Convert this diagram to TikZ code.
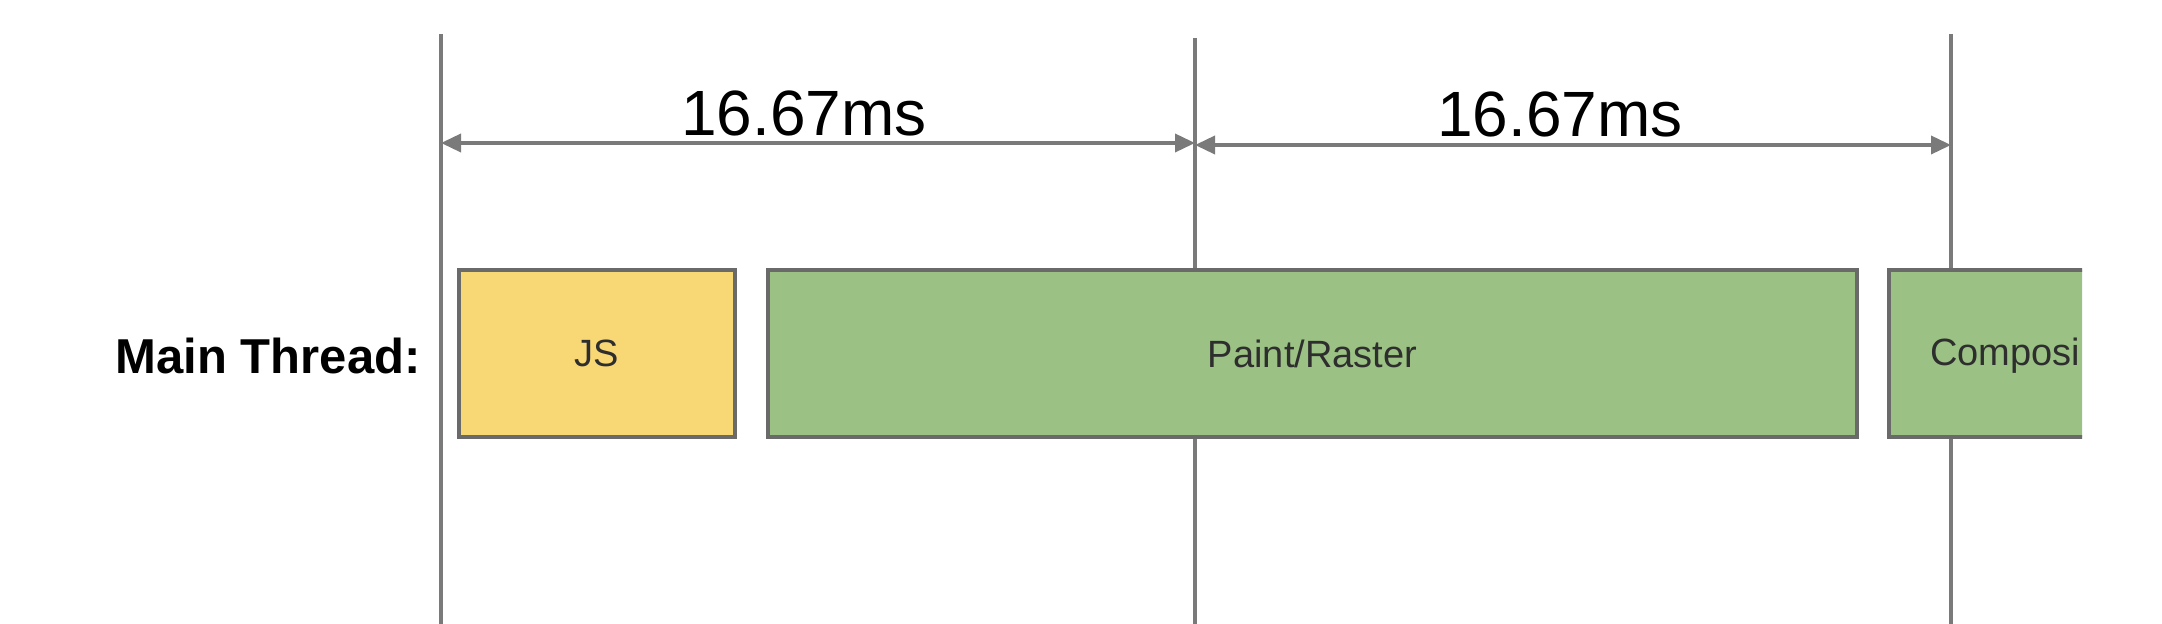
\documentclass[tikz,border=0pt]{standalone}
\usepackage{fontspec}
\setmainfont{Liberation Sans}
\usetikzlibrary{arrows.meta}
\definecolor{linegray}{HTML}{7A7A7A}
\definecolor{boxborder}{HTML}{6A6A6A}
\definecolor{jsyellow}{HTML}{F8D775}
\definecolor{paintgreen}{HTML}{9BC284}
\definecolor{boxtext}{HTML}{2E2E2E}
\tikzset{
  vline/.style={draw=linegray, line width=2pt},
  dimarrow/.style={draw=linegray, line width=1.8pt, {Triangle[length=10pt,width=9pt]}-{Triangle[length=10pt,width=9pt]}},
  timelabel/.style={font=\fontsize{32}{36}\selectfont, text=black, inner sep=0pt},
  taskbox/.style={draw=boxborder, line width=2pt, inner sep=0pt, minimum height=83.5pt, font=\fontsize{19}{22}\selectfont, text=boxtext},
  threadlabel/.style={font=\fontsize{24.5}{28}\selectfont\bfseries, text=black, inner sep=0pt}
}
\begin{document}
\begin{tikzpicture}[x=0.5pt,y=-0.5pt]
\useasboundingbox (0,0) rectangle (2162,624);
\fill[white] (0,0) rectangle (2162,624);
% vertical frame lines
\coordinate (t1) at (441,34);  \coordinate (b1) at (441,624);
\coordinate (t2) at (1195,38); \coordinate (b2) at (1195,624);
\coordinate (t3) at (1951,34); \coordinate (b3) at (1951,624);
\draw[vline] (t1) -- (b1);
\draw[vline] (t2) -- (b2);
\draw[vline] (t3) -- (b3);
% dimension arrows
\coordinate (a1) at (441,143);
\coordinate (a2l) at (1195,143);
\coordinate (a2r) at (1195,145);
\coordinate (a3) at (1951,145);
\draw[dimarrow] (a1) -- (a2l);
\draw[dimarrow] (a2r) -- (a3);
\node[timelabel, anchor=base] (lab1) at (804,136) {16.67ms};
\node[timelabel, anchor=base] (lab2) at (1560,137) {16.67ms};
% thread label
\node[threadlabel, anchor=east] (thread) at (421,356) {Main Thread:};
% boxes
\node[taskbox, fill=jsyellow, minimum width=138pt] (js) at (597,353.5) {JS};
\node[taskbox, fill=paintgreen, minimum width=544.5pt] (paint) at (1312.5,353.5) {Paint/Raster};
\begin{scope}
\clip (0,0) rectangle (2082,624);
\node[taskbox, fill=paintgreen, minimum width=155.5pt] (comp) at (2044.5,353.5) {};
\node[font=\fontsize{19}{22}\selectfont, text=boxtext, inner sep=0pt, anchor=west] (comptext) at (1930,356) {Composi};
\end{scope}
\end{tikzpicture}
\end{document}
